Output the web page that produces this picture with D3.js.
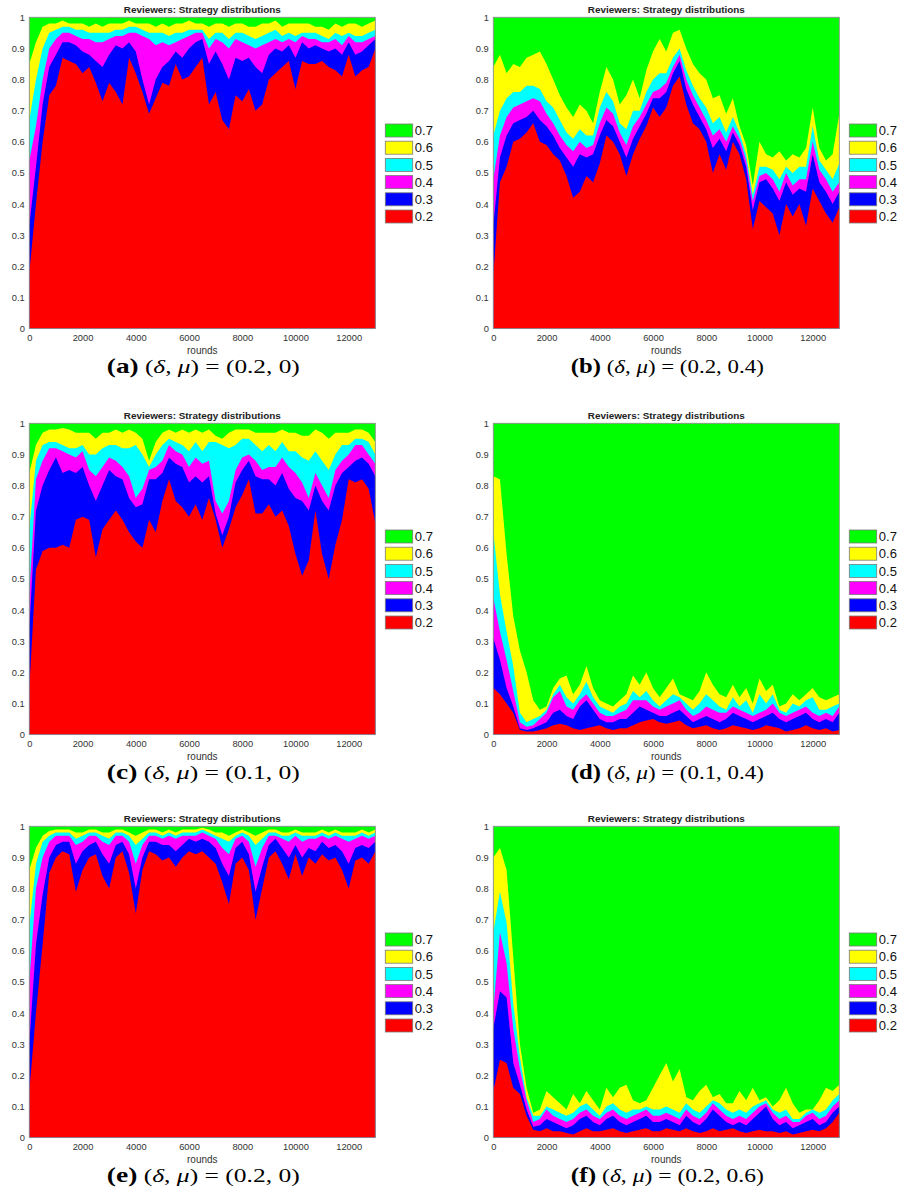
<!DOCTYPE html>
<html>
<head>
<meta charset="utf-8">
<script src="https://cdn.jsdelivr.net/npm/d3@7"></script>
<style>
  body { margin: 0; background: #fff; }
  svg { display: block; }
</style>
</head>
<body>
<svg id="fig" width="905" height="1200"></svg>
<script>
// Sample grid of the simulation: one value every 250 rounds, 0 … 13000
const roundStep = 250;
const rounds = d3.range(0, 13000 + roundStep, roundStep);

const strategies = ["0.2", "0.3", "0.4", "0.5", "0.6", "0.7"];
const strategyColors = ["#ff0000", "#0000ff", "#ff00ff", "#00ffff", "#ffff00", "#00ff00"];

const xTicks = [0, 2000, 4000, 6000, 8000, 10000, 12000];
const yTicks = [0, 0.1, 0.2, 0.3, 0.4, 0.5, 0.6, 0.7, 0.8, 0.9, 1];
const yTickLabels = ["0", "0.1", "0.2", "0.3", "0.4", "0.5", "0.6", "0.7", "0.8", "0.9", "1"];

// Cumulative share of reviewers whose strategy is <= the given level
// (the 0.7 band always tops out at 1).

// (a) delta = 0.2, mu = 0
const a02 = [0.18,0.40,0.60,0.75,0.78,0.87,0.86,0.85,0.82,0.84,0.79,0.73,0.79,0.76,0.72,0.87,0.82,0.76,0.69,0.74,0.79,0.78,0.85,0.80,0.81,0.84,0.87,0.72,0.76,0.67,0.64,0.75,0.73,0.77,0.70,0.72,0.80,0.82,0.84,0.86,0.77,0.86,0.85,0.85,0.86,0.84,0.83,0.81,0.88,0.81,0.83,0.84,0.90];
const a03 = [0.33,0.52,0.72,0.84,0.88,0.92,0.92,0.91,0.89,0.88,0.86,0.84,0.88,0.91,0.90,0.92,0.89,0.80,0.72,0.80,0.84,0.86,0.89,0.87,0.90,0.92,0.93,0.85,0.89,0.85,0.80,0.87,0.86,0.87,0.84,0.82,0.88,0.90,0.89,0.91,0.87,0.92,0.90,0.91,0.90,0.89,0.90,0.88,0.92,0.88,0.89,0.91,0.93];
const a04 = [0.54,0.65,0.80,0.90,0.93,0.95,0.95,0.94,0.93,0.93,0.92,0.92,0.93,0.94,0.94,0.95,0.95,0.94,0.93,0.91,0.92,0.91,0.92,0.93,0.94,0.95,0.95,0.90,0.93,0.92,0.90,0.93,0.92,0.91,0.90,0.91,0.92,0.93,0.92,0.93,0.92,0.94,0.93,0.93,0.92,0.92,0.93,0.91,0.94,0.92,0.92,0.93,0.94];
const a05 = [0.67,0.80,0.90,0.95,0.96,0.97,0.97,0.96,0.96,0.95,0.95,0.95,0.95,0.96,0.96,0.97,0.97,0.96,0.95,0.95,0.95,0.94,0.95,0.95,0.96,0.96,0.96,0.93,0.95,0.95,0.93,0.95,0.95,0.94,0.93,0.94,0.95,0.96,0.94,0.95,0.94,0.95,0.95,0.95,0.94,0.93,0.95,0.94,0.95,0.94,0.94,0.95,0.96];
const a06 = [0.85,0.92,0.97,0.98,0.98,0.99,0.98,0.98,0.98,0.97,0.98,0.97,0.98,0.98,0.98,0.99,0.98,0.98,0.98,0.97,0.98,0.97,0.98,0.98,0.99,0.98,0.98,0.97,0.98,0.98,0.97,0.98,0.98,0.97,0.97,0.98,0.98,0.99,0.97,0.98,0.98,0.98,0.98,0.97,0.97,0.96,0.98,0.97,0.98,0.98,0.97,0.98,0.99];

// (b) delta = 0.2, mu = 0.4
const b02 = [0.17,0.47,0.52,0.60,0.61,0.63,0.66,0.60,0.59,0.56,0.54,0.49,0.42,0.44,0.49,0.47,0.53,0.62,0.60,0.56,0.49,0.56,0.61,0.65,0.71,0.68,0.71,0.78,0.81,0.72,0.66,0.64,0.60,0.50,0.56,0.51,0.60,0.56,0.48,0.32,0.41,0.39,0.37,0.30,0.40,0.36,0.40,0.33,0.45,0.41,0.37,0.34,0.39];
const b03 = [0.33,0.55,0.62,0.66,0.67,0.68,0.70,0.67,0.65,0.62,0.58,0.55,0.52,0.56,0.55,0.56,0.62,0.67,0.65,0.60,0.55,0.61,0.65,0.69,0.74,0.74,0.76,0.82,0.86,0.77,0.72,0.68,0.64,0.58,0.61,0.57,0.63,0.59,0.52,0.38,0.47,0.48,0.45,0.41,0.47,0.43,0.45,0.44,0.56,0.47,0.44,0.40,0.44];
const b04 = [0.48,0.62,0.68,0.71,0.72,0.73,0.74,0.73,0.69,0.66,0.62,0.59,0.57,0.60,0.58,0.59,0.66,0.71,0.69,0.63,0.59,0.65,0.68,0.72,0.76,0.77,0.79,0.84,0.88,0.80,0.75,0.71,0.67,0.62,0.64,0.60,0.65,0.61,0.54,0.41,0.49,0.50,0.48,0.44,0.50,0.46,0.48,0.48,0.60,0.51,0.48,0.44,0.47];
const b05 = [0.62,0.70,0.74,0.76,0.76,0.78,0.78,0.77,0.73,0.71,0.67,0.63,0.61,0.64,0.62,0.62,0.71,0.76,0.73,0.66,0.64,0.70,0.70,0.76,0.80,0.82,0.82,0.87,0.90,0.83,0.78,0.74,0.71,0.66,0.68,0.63,0.68,0.63,0.56,0.43,0.52,0.52,0.51,0.48,0.52,0.50,0.52,0.52,0.65,0.54,0.51,0.48,0.53];
const b06 = [0.84,0.88,0.82,0.85,0.84,0.87,0.88,0.89,0.85,0.80,0.75,0.71,0.68,0.72,0.70,0.66,0.76,0.84,0.80,0.72,0.75,0.80,0.74,0.83,0.89,0.93,0.89,0.95,0.96,0.90,0.85,0.82,0.80,0.74,0.75,0.69,0.74,0.65,0.59,0.46,0.60,0.56,0.55,0.57,0.54,0.56,0.55,0.58,0.71,0.58,0.54,0.56,0.69];

// (c) delta = 0.1, mu = 0
const c02 = [0.15,0.53,0.59,0.60,0.60,0.61,0.60,0.69,0.70,0.69,0.57,0.66,0.69,0.72,0.69,0.65,0.62,0.60,0.69,0.65,0.75,0.82,0.75,0.73,0.70,0.74,0.69,0.76,0.69,0.60,0.66,0.73,0.77,0.82,0.71,0.71,0.74,0.70,0.72,0.67,0.58,0.51,0.56,0.72,0.58,0.50,0.61,0.69,0.82,0.81,0.82,0.79,0.68];
const c03 = [0.34,0.72,0.80,0.85,0.89,0.84,0.85,0.84,0.86,0.80,0.75,0.80,0.85,0.83,0.82,0.76,0.73,0.74,0.82,0.82,0.84,0.89,0.87,0.86,0.81,0.83,0.81,0.83,0.71,0.64,0.70,0.81,0.85,0.88,0.83,0.82,0.82,0.80,0.84,0.79,0.76,0.75,0.72,0.80,0.75,0.72,0.80,0.84,0.86,0.88,0.89,0.87,0.83];
const c04 = [0.45,0.82,0.88,0.92,0.92,0.91,0.90,0.89,0.91,0.85,0.83,0.86,0.89,0.88,0.86,0.83,0.76,0.79,0.85,0.86,0.88,0.93,0.91,0.90,0.86,0.89,0.87,0.88,0.75,0.71,0.75,0.85,0.89,0.90,0.88,0.85,0.86,0.86,0.89,0.86,0.84,0.81,0.76,0.84,0.80,0.76,0.85,0.88,0.90,0.93,0.93,0.90,0.87];
const c05 = [0.66,0.88,0.93,0.94,0.94,0.93,0.92,0.92,0.93,0.90,0.90,0.92,0.93,0.93,0.92,0.92,0.93,0.90,0.86,0.90,0.93,0.95,0.94,0.93,0.91,0.94,0.91,0.94,0.94,0.93,0.92,0.93,0.95,0.95,0.93,0.91,0.93,0.91,0.94,0.91,0.91,0.89,0.88,0.91,0.88,0.85,0.90,0.93,0.93,0.95,0.95,0.94,0.90];
const c06 = [0.84,0.93,0.97,0.98,0.98,0.985,0.98,0.97,0.97,0.97,0.95,0.97,0.97,0.98,0.97,0.98,0.97,0.95,0.88,0.94,0.97,0.98,0.97,0.98,0.97,0.98,0.97,0.98,0.96,0.95,0.97,0.98,0.98,0.98,0.97,0.97,0.97,0.97,0.98,0.97,0.97,0.96,0.96,0.98,0.97,0.95,0.97,0.97,0.97,0.98,0.98,0.97,0.94];

// (d) delta = 0.1, mu = 0.4
const d02 = [0.15,0.13,0.10,0.07,0.015,0.01,0.01,0.015,0.02,0.03,0.035,0.03,0.02,0.015,0.02,0.025,0.03,0.02,0.015,0.02,0.02,0.03,0.04,0.045,0.05,0.04,0.035,0.04,0.045,0.03,0.02,0.025,0.03,0.02,0.015,0.02,0.03,0.025,0.02,0.015,0.02,0.03,0.025,0.02,0.01,0.015,0.02,0.03,0.02,0.015,0.02,0.01,0.015];
const d03 = [0.31,0.24,0.15,0.09,0.02,0.015,0.02,0.03,0.04,0.07,0.08,0.06,0.05,0.09,0.11,0.08,0.05,0.04,0.04,0.05,0.05,0.07,0.09,0.08,0.07,0.06,0.06,0.07,0.08,0.06,0.04,0.05,0.06,0.05,0.04,0.05,0.07,0.06,0.05,0.04,0.05,0.06,0.07,0.05,0.04,0.05,0.06,0.07,0.05,0.04,0.05,0.04,0.07];
const d04 = [0.44,0.33,0.24,0.14,0.04,0.025,0.03,0.05,0.07,0.12,0.14,0.09,0.08,0.11,0.13,0.10,0.07,0.06,0.06,0.07,0.08,0.11,0.11,0.11,0.09,0.08,0.09,0.10,0.11,0.08,0.06,0.07,0.09,0.08,0.07,0.07,0.09,0.08,0.07,0.06,0.07,0.08,0.10,0.07,0.06,0.07,0.08,0.09,0.07,0.06,0.07,0.06,0.09];
const d05 = [0.65,0.45,0.33,0.22,0.07,0.04,0.05,0.06,0.08,0.13,0.16,0.12,0.10,0.13,0.17,0.12,0.09,0.08,0.07,0.09,0.10,0.14,0.12,0.14,0.11,0.09,0.11,0.13,0.12,0.10,0.08,0.10,0.13,0.11,0.09,0.08,0.12,0.09,0.11,0.07,0.13,0.10,0.13,0.08,0.07,0.10,0.09,0.11,0.12,0.08,0.08,0.09,0.10];
const d06 = [0.83,0.82,0.58,0.38,0.27,0.20,0.11,0.08,0.09,0.15,0.18,0.19,0.13,0.16,0.22,0.15,0.11,0.10,0.09,0.11,0.13,0.19,0.16,0.20,0.15,0.12,0.15,0.18,0.13,0.12,0.11,0.14,0.20,0.16,0.13,0.12,0.16,0.12,0.15,0.10,0.18,0.14,0.16,0.09,0.10,0.13,0.11,0.13,0.15,0.12,0.11,0.12,0.13];

// (e) delta = 0.2, mu = 0
const e02 = [0.15,0.40,0.62,0.85,0.90,0.92,0.91,0.79,0.86,0.90,0.91,0.84,0.80,0.90,0.92,0.85,0.72,0.86,0.92,0.91,0.89,0.90,0.87,0.90,0.92,0.91,0.92,0.90,0.88,0.82,0.75,0.88,0.90,0.86,0.70,0.80,0.90,0.92,0.88,0.83,0.91,0.84,0.90,0.88,0.91,0.89,0.90,0.86,0.80,0.89,0.90,0.88,0.92];
const e03 = [0.30,0.62,0.78,0.90,0.94,0.95,0.95,0.88,0.92,0.94,0.95,0.91,0.88,0.94,0.95,0.91,0.80,0.90,0.95,0.95,0.94,0.94,0.92,0.94,0.96,0.95,0.96,0.95,0.93,0.88,0.84,0.93,0.95,0.91,0.79,0.87,0.94,0.96,0.93,0.90,0.94,0.90,0.93,0.92,0.95,0.93,0.94,0.92,0.88,0.93,0.94,0.93,0.95];
const e04 = [0.50,0.80,0.90,0.95,0.97,0.97,0.97,0.94,0.95,0.97,0.97,0.95,0.94,0.97,0.97,0.95,0.88,0.94,0.97,0.97,0.96,0.97,0.96,0.97,0.97,0.97,0.98,0.97,0.96,0.93,0.91,0.96,0.97,0.95,0.87,0.93,0.97,0.97,0.96,0.95,0.97,0.95,0.96,0.96,0.97,0.96,0.97,0.96,0.95,0.96,0.97,0.96,0.97];
const e05 = [0.68,0.88,0.95,0.97,0.98,0.98,0.98,0.96,0.97,0.98,0.98,0.97,0.96,0.98,0.98,0.97,0.94,0.96,0.98,0.98,0.97,0.98,0.97,0.98,0.98,0.98,0.99,0.98,0.97,0.96,0.95,0.97,0.98,0.97,0.94,0.96,0.98,0.98,0.97,0.97,0.98,0.97,0.97,0.97,0.98,0.97,0.98,0.97,0.97,0.97,0.98,0.97,0.98];
const e06 = [0.86,0.93,0.97,0.985,0.99,0.99,0.99,0.98,0.98,0.99,0.99,0.98,0.98,0.99,0.99,0.98,0.97,0.98,0.99,0.99,0.98,0.99,0.98,0.99,0.99,0.99,0.995,0.99,0.98,0.98,0.97,0.98,0.99,0.98,0.97,0.98,0.99,0.99,0.98,0.98,0.99,0.98,0.98,0.98,0.99,0.98,0.99,0.98,0.98,0.98,0.99,0.98,0.99];

// (f) delta = 0.2, mu = 0.6
const f02 = [0.15,0.25,0.24,0.16,0.14,0.07,0.025,0.02,0.03,0.02,0.02,0.015,0.01,0.02,0.03,0.02,0.02,0.025,0.03,0.02,0.015,0.02,0.025,0.03,0.02,0.02,0.03,0.025,0.02,0.03,0.02,0.015,0.02,0.03,0.02,0.025,0.03,0.02,0.015,0.02,0.025,0.02,0.02,0.015,0.02,0.01,0.015,0.02,0.025,0.02,0.03,0.05,0.08];
const f03 = [0.35,0.47,0.45,0.24,0.17,0.09,0.035,0.04,0.06,0.05,0.04,0.03,0.04,0.06,0.07,0.05,0.04,0.06,0.07,0.05,0.04,0.05,0.06,0.07,0.05,0.05,0.06,0.05,0.04,0.07,0.05,0.04,0.06,0.09,0.07,0.05,0.04,0.05,0.04,0.06,0.08,0.10,0.06,0.04,0.05,0.03,0.04,0.05,0.06,0.04,0.05,0.08,0.10];
const f04 = [0.41,0.66,0.56,0.35,0.22,0.12,0.05,0.06,0.09,0.07,0.06,0.05,0.06,0.08,0.09,0.07,0.06,0.08,0.09,0.07,0.06,0.07,0.08,0.09,0.07,0.07,0.08,0.07,0.06,0.09,0.07,0.06,0.08,0.11,0.09,0.07,0.06,0.07,0.06,0.08,0.10,0.11,0.08,0.06,0.07,0.05,0.05,0.07,0.08,0.06,0.07,0.10,0.12];
const f05 = [0.66,0.79,0.69,0.43,0.26,0.13,0.07,0.07,0.10,0.09,0.08,0.07,0.08,0.10,0.11,0.09,0.07,0.10,0.11,0.09,0.08,0.09,0.09,0.10,0.09,0.09,0.10,0.09,0.08,0.11,0.09,0.08,0.10,0.12,0.11,0.09,0.08,0.09,0.08,0.10,0.11,0.12,0.09,0.08,0.09,0.06,0.06,0.08,0.09,0.08,0.09,0.12,0.14];
const f06 = [0.90,0.93,0.86,0.58,0.30,0.16,0.08,0.09,0.15,0.13,0.11,0.09,0.14,0.11,0.15,0.12,0.09,0.16,0.13,0.16,0.17,0.12,0.11,0.12,0.16,0.20,0.24,0.18,0.22,0.13,0.12,0.15,0.17,0.13,0.14,0.11,0.11,0.15,0.12,0.16,0.12,0.13,0.10,0.12,0.16,0.11,0.08,0.09,0.09,0.12,0.16,0.15,0.17];

const panelTags = ["(a)", "(b)", "(c)", "(d)", "(e)", "(f)"];
const panelDelta = ["0.2", "0.2", "0.1", "0.1", "0.2", "0.2"];
const panelMu = ["0", "0.4", "0", "0.4", "0", "0.6"];
const panelBands = [
  [a02, a03, a04, a05, a06],
  [b02, b03, b04, b05, b06],
  [c02, c03, c04, c05, c06],
  [d02, d03, d04, d05, d06],
  [e02, e03, e04, e05, e06],
  [f02, f03, f04, f05, f06]
];

// ---- layout ----
const colLeft = [29.3, 493.3];
const rowTop = [17.3, 423.3, 826.3];
const plotW = 346;
const plotH = 311.3;
const axisFont = "'Liberation Sans', Arial, Helvetica, sans-serif";
const serifFont = "'Liberation Serif', 'Times New Roman', serif";

const svg = d3.select("#fig");

const x = d3.scaleLinear().domain([0, 13000]).range([0, plotW]);
const y = d3.scaleLinear().domain([0, 1]).range([plotH, 0]);

panelTags.forEach((tag, p) => {
  const col = p % 2, row = Math.floor(p / 2);
  const g = svg.append("g").attr("transform", `translate(${colLeft[col]},${rowTop[row]})`);

  // cumulative tops, bottom strategy first; the last band reaches 1
  const tops = panelBands[p].concat([rounds.map(() => 1)]);

  // paint from the highest strategy downward, each filled from 0 to its cumulative top
  for (let s = strategies.length - 1; s >= 0; s--) {
    const top = tops[s];
    const area = d3.area()
      .x((d, i) => x(rounds[i]))
      .y0(y(0))
      .y1((d, i) => y(top[i]));
    g.append("path")
      .datum(rounds)
      .attr("d", area)
      .attr("fill", strategyColors[s]);
  }

  // axes
  const yAxis = d3.axisLeft(y).tickValues(yTicks)
    .tickFormat((d, i) => yTickLabels[i]).tickSize(0).tickPadding(4.5);
  const gy = g.append("g").call(yAxis);
  gy.select(".domain").remove();
  gy.selectAll("text").attr("font-family", axisFont).attr("font-size", 9.3).attr("fill", "#333");

  const xAxis = d3.axisBottom(x).tickValues(xTicks).tickFormat(d3.format("d")).tickSize(0).tickPadding(5.5);
  const gx = g.append("g").attr("transform", `translate(0,${plotH})`).call(xAxis);
  gx.select(".domain").remove();
  gx.selectAll("text").attr("font-family", axisFont).attr("font-size", 9.3).attr("fill", "#333");

  // axes box
  g.append("rect")
    .attr("x", 0).attr("y", 0).attr("width", plotW).attr("height", plotH)
    .attr("fill", "none").attr("stroke", "#8f8f8f").attr("stroke-width", 0.9);

  // title and x label
  g.append("text")
    .attr("x", plotW / 2).attr("y", -4.6)
    .attr("text-anchor", "middle")
    .attr("font-family", axisFont).attr("font-weight", "bold").attr("font-size", 9.9)
    .attr("fill", "#222")
    .text("Reviewers: Strategy distributions");

  g.append("text")
    .attr("x", plotW / 2).attr("y", plotH + 25)
    .attr("text-anchor", "middle")
    .attr("font-family", axisFont).attr("font-size", 10)
    .attr("fill", "#333")
    .text("rounds");

  // legend (highest strategy at the top)
  const lg = g.append("g").attr("transform", `translate(${plotW + 10},${113.2})`);
  strategies.slice().reverse().forEach((label, k) => {
    const s = strategies.length - 1 - k;
    const row = lg.append("g").attr("transform", `translate(0,${k * 17.2})`);
    row.append("rect")
      .attr("x", 0).attr("y", -6.5).attr("width", 27.4).attr("height", 13)
      .attr("fill", strategyColors[s]).attr("stroke", "#7a7a7a").attr("stroke-width", 0.8);
    row.append("text")
      .attr("x", 29.5).attr("y", 0).attr("dy", "0.36em")
      .attr("font-family", axisFont).attr("font-size", 13)
      .attr("fill", "#111")
      .text(label);
  });

  // sub-caption
  const cap = g.append("text")
    .attr("x", plotW / 2 + 1).attr("y", plotH + 44.5)
    .attr("text-anchor", "middle")
    .attr("font-family", serifFont).attr("font-size", 19.5)
    .attr("fill", "#000")
    .attr("textLength", 193).attr("lengthAdjust", "spacingAndGlyphs");
  cap.append("tspan").attr("font-weight", "bold").attr("font-size", 21).text(tag);
  cap.append("tspan").text(" (");
  cap.append("tspan").attr("font-style", "italic").text("\u03B4");
  cap.append("tspan").text(", ");
  cap.append("tspan").attr("font-style", "italic").text("\u03BC");
  cap.append("tspan").text(") = (" + panelDelta[p] + ", " + panelMu[p] + ")");
});
</script>
</body>
</html>
